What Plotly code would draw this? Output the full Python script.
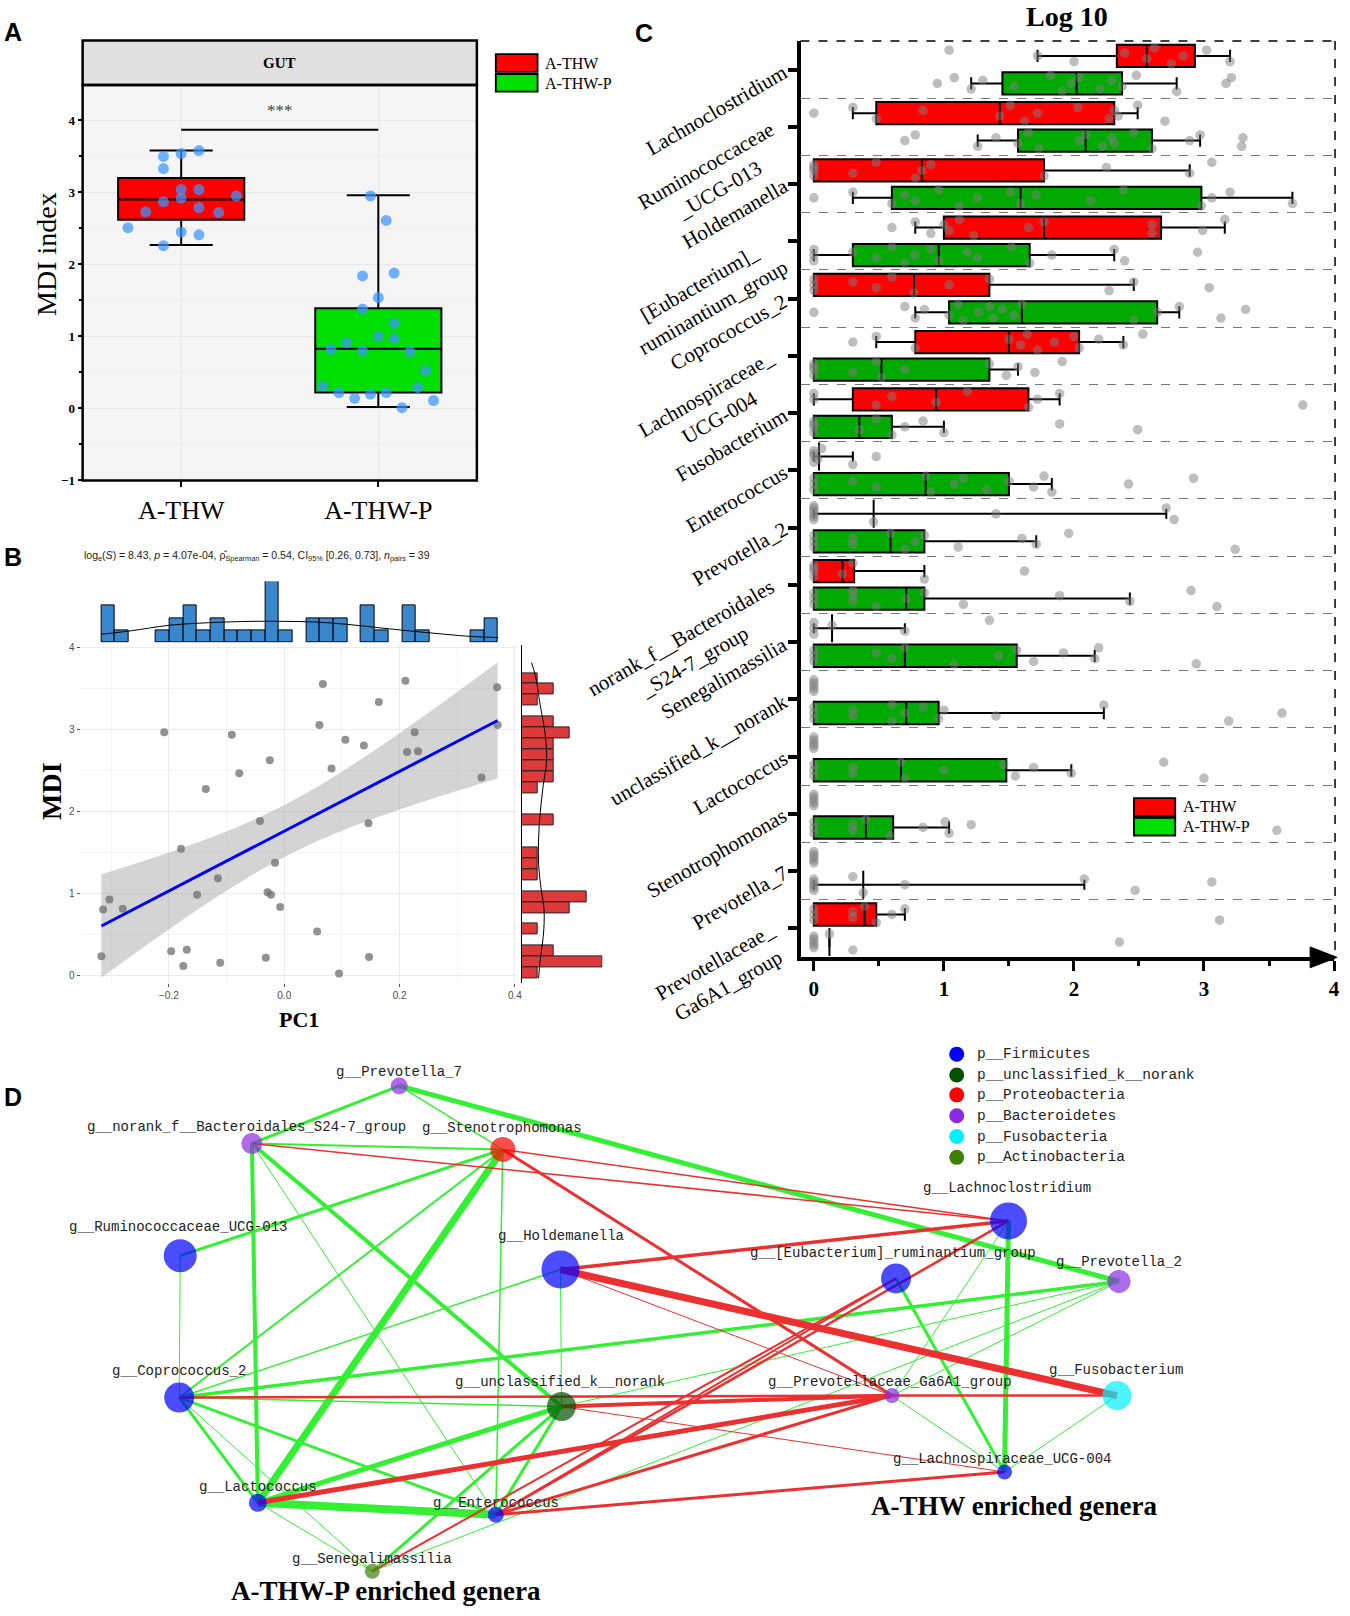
import numpy as np
import plotly.graph_objects as go

W, H = 1350, 1616
SERIF = "Liberation Serif"
SANS = "Liberation Sans"
MONO = "Liberation Mono"

# ---------------- panel A: MDI index by group ----------------
a_groups = ["A-THW", "A-THW-P"]
a_q1 = [2.62, 0.22]
a_med = [2.90, 0.83]
a_q3 = [3.20, 1.39]
a_lo = [2.27, 0.02]
a_hi = [3.58, 2.96]
a_thw_mdi = [3.50, 3.54, 3.58, 3.33, 3.04, 3.04, 2.95, 2.92, 2.87, 2.79, 2.73, 2.72,
             2.51, 2.45, 2.41, 2.26]
a_thw_jit = [-0.09, 0.0, 0.09, -0.09, 0.0, 0.09, 0.28, 0.0, -0.09, 0.09, -0.18, 0.19,
             -0.27, 0.0, 0.09, -0.09]
a_thwp_mdi = [2.95, 2.61, 1.84, 1.88, 1.54, 1.38, 1.18, 1.00, 0.97, 0.91, 0.82, 0.80,
              0.79, 0.52, 0.31, 0.29, 0.22, 0.20, 0.22, 0.14, 0.11, 0.01]
a_thwp_jit = [-0.04, 0.04, -0.08, 0.08, 0.0, -0.08, 0.08, 0.0, 0.08, -0.16, -0.24, -0.08,
              0.16, 0.24, -0.28, 0.20, -0.20, -0.04, 0.04, -0.12, 0.28, 0.12]
a_sig_y = 3.87

# ---------------- panel B: PC1 vs MDI ----------------
pc1 = [0.067, 0.210, 0.369, 0.164, -0.208, -0.091, 0.061, 0.370, 0.226, 0.106, 0.138,
       0.213, 0.232, -0.025, 0.082, -0.078, 0.342, -0.136, -0.042, 0.146, -0.179, -0.016,
       -0.115, -0.303, -0.314, -0.280, -0.151, -0.029, -0.023, -0.007, 0.057, -0.317,
       -0.196, -0.169, -0.175, -0.111, -0.032, 0.147, 0.095]
mdi = [3.55, 3.59, 3.51, 3.33, 2.96, 2.93, 3.05, 3.05, 2.96, 2.87, 2.80, 2.72, 2.73,
       2.62, 2.52, 2.46, 2.41, 2.27, 1.88, 1.85, 1.54, 1.37, 1.18, 0.92, 0.80, 0.81, 0.98,
       1.01, 0.98, 0.83, 0.53, 0.23, 0.29, 0.31, 0.11, 0.15, 0.21, 0.22, 0.02]
pc1_bin_start = -0.317
pc1_bin_width = 0.0237
pc1_counts = [3, 1, 0, 0, 1, 2, 3, 1, 2, 1, 1, 1, 5, 1, 0, 2, 2, 2, 0, 3, 1, 0, 3, 1,
              0, 0, 0, 1, 2]
pc1_dens_x = [-0.317, -0.267, -0.199, -0.131, -0.056, -0.001, 0.053, 0.108, 0.162,
              0.217, 0.278, 0.326, 0.371]
pc1_dens_y = [0.68, 0.95, 1.41, 1.62, 1.73, 1.73, 1.68, 1.49, 1.22, 0.95, 0.68, 0.49, 0.41]
mdi_bin_top = 3.684
mdi_bin_height = 0.133
mdi_counts = [1, 2, 1, 0, 2, 3, 2, 2, 2, 2, 1, 0, 0, 2, 0, 0, 1, 1, 1, 0, 4, 3, 0, 1,
              0, 2, 5, 1]  # top to bottom
mdi_dens_y = [3.81, 3.65, 3.29, 2.93, 2.60, 2.32, 1.98, 1.67, 1.35, 1.03, 0.79, 0.47,
              0.19, -0.04]
mdi_dens_x = [0.61, 0.85, 1.15, 1.46, 1.54, 1.34, 1.15, 1.05, 1.05, 1.22, 1.39, 1.34,
              1.15, 1.05]
subtitle_b = ("log<sub>e</sub>(<i>S</i>) = 8.43, <i>p</i> = 4.07e-04, "
              "\u03c1\u0302<sub>Spearman</sub> = 0.54, CI<sub>95%</sub> [0.26, 0.73], "
              "<i>n</i><sub>pairs</sub> = 39")

# ---------------- panel C: genera abundance (log10) ----------------
c_labels = ["Lachnoclostridium", "Ruminococcaceae<br>_UCG-013", "Holdemanella",
            "[Eubacterium]_<br>ruminantium_group", "Coprococcus_2",
            "Lachnospiraceae_<br>UCG-004", "Fusobacterium", "Enterococcus", "Prevotella_2",
            "norank_f__Bacteroidales<br>_S24-7_group", "Senegalimassilia",
            "unclassified_k__norank", "Lactococcus", "Stenotrophomonas", "Prevotella_7",
            "Prevotellaceae_<br>Ga6A1_group"]
thw_q1 = [2.33, 0.48, 0.0, 1.00, 0.0, 0.78, 0.30, None, None, 0.0, None, None, None, None, None, 0.0]
thw_med = [2.56, 1.43, 0.83, 1.77, 0.77, 1.50, 0.94, None, None, 0.22, None, None, None, None, None, 0.39]
thw_q3 = [2.93, 2.31, 1.77, 2.67, 1.35, 2.04, 1.65, None, None, 0.31, None, None, None, None, None, 0.48]
thw_lo = [1.72, 0.30, 0.0, 0.78, 0.0, 0.48, 0.0, None, None, 0.0, None, None, None, None, None, 0.0]
thw_hi = [3.20, 2.49, 2.89, 3.16, 2.46, 2.38, 1.89, None, None, 0.85, None, None, None, None, None, 0.70]
thw_mark = [None, None, None, None, None, None, None, 0.04, 0.46, None, 0.14, None, None, None, None, None]
thw_mark_hi = [None, None, None, None, None, None, None, 0.30, 2.71, None, 0.70, None, None, None, None, None]
thwp_q1 = [1.45, 1.57, 0.60, 0.30, 1.04, 0.0, 0.0, 0.0, 0.0, 0.0, 0.0, 0.0, 0.0, 0.0, None, None]
thwp_med = [2.02, 2.09, 1.59, 0.96, 1.60, 0.52, 0.35, 0.86, 0.59, 0.71, 0.70, 0.71, 0.67, 0.40, None, None]
thwp_q3 = [2.37, 2.60, 2.98, 1.66, 2.64, 1.35, 0.60, 1.50, 0.85, 0.85, 1.56, 0.96, 1.48, 0.61, None, None]
thwp_lo = [1.21, 1.26, 0.30, 0.0, 0.78, 0.0, 0.0, 0.0, 0.0, 0.0, 0.0, 0.0, 0.0, 0.0, None, None]
thwp_hi = [2.79, 2.97, 3.68, 2.31, 2.81, 1.57, 1.00, 1.83, 1.71, 2.43, 2.16, 2.23, 1.98, 1.04, None, None]
thwp_mark = [None] * 14 + [0.38, 0.12]
thwp_mark_hi = [None] * 14 + [2.08, 0.12]
thw_pts = [
    [1.72, 1.04, 2.00, 2.39, 2.56, 2.62, 2.75, 2.84, 3.02, 3.20],
    [0, 0.30, 0.48, 0.84, 1.43, 1.51, 1.62, 1.72, 2.03, 2.27, 2.31, 2.34, 2.49, 2.70],
    [0, 0, 0, 0, 0.30, 0.48, 0.78, 0.83, 0.90, 1.77, 2.25, 2.89, 3.06],
    [0.60, 0.78, 0.90, 1.00, 1.04, 1.12, 1.23, 1.65, 1.77, 2.60, 2.60, 2.99, 3.16],
    [0, 0, 0, 0.30, 0.48, 0.60, 0.77, 1.04, 1.35, 2.27, 2.46, 3.04],
    [0.30, 0.48, 0.78, 1.50, 1.59, 1.64, 1.72, 1.85, 2.00, 2.04, 2.19, 2.38, 2.53],
    [0, 0, 0.48, 0.60, 0.94, 1.18, 1.65, 1.72, 1.89, 3.76],
    [0, 0, 0, 0, 0.03, 0.06, 0.30, 0.48],
    [0, 0, 0, 0, 0, 0, 0.46, 1.40, 2.71, 2.77],
    [0, 0, 0, 0, 0.22, 0.30, 0.85, 1.62],
    [0, 0, 0, 0.14, 0.70, 1.35],
    [0, 0, 0, 0, 0],
    [0, 0, 0, 0, 0],
    [0, 0, 0, 0, 0],
    [0, 0, 0, 0, 0],
    [0, 0, 0, 0.30, 0.30, 0.39, 0.48, 0.60, 0.70, 3.12],
]
thwp_pts = [
    [0.95, 1.08, 1.21, 1.30, 1.54, 1.82, 1.91, 1.98, 2.04, 2.20, 2.29, 2.37, 2.48, 2.79, 3.17, 3.21],
    [0.70, 0.78, 1.26, 1.40, 1.57, 1.65, 1.73, 2.04, 2.09, 2.22, 2.29, 2.31, 2.46, 2.60, 2.89, 2.97, 3.29, 3.30],
    [0, 0.30, 0.60, 0.70, 0.78, 0.96, 1.12, 1.26, 1.51, 1.59, 1.71, 2.13, 2.38, 2.98, 3.06, 3.20, 3.68],
    [0, 0, 0, 0.30, 0.48, 0.60, 0.70, 0.78, 0.90, 0.96, 1.18, 1.26, 1.52, 1.66, 1.83, 2.31, 2.39, 2.95],
    [0, 0.70, 0.78, 0.85, 1.04, 1.11, 1.15, 1.27, 1.35, 1.38, 1.45, 1.54, 1.60, 2.46, 2.64, 2.81, 3.13, 3.32],
    [0, 0, 0, 0, 0.30, 0.48, 0.52, 0.70, 1.35, 1.48, 1.57, 1.70, 1.91],
    [0, 0, 0, 0, 0.35, 0.48, 0.60, 0.70, 0.84, 1.00, 1.89, 2.49],
    [0, 0, 0, 0.30, 0.48, 0.86, 0.90, 1.08, 1.15, 1.33, 1.50, 1.69, 1.77, 1.83, 2.42, 2.92],
    [0, 0, 0, 0.30, 0.30, 0.59, 0.70, 0.78, 0.85, 1.11, 1.60, 1.71, 1.96, 3.24],
    [0, 0, 0, 0.30, 0.30, 0.30, 0.48, 0.71, 0.85, 1.15, 1.89, 2.43, 2.90, 3.10],
    [0, 0, 0, 0.48, 0.60, 0.70, 1.08, 1.42, 1.56, 1.69, 1.92, 2.16, 2.19, 2.94],
    [0, 0, 0, 0.30, 0.30, 0.60, 0.60, 0.70, 0.84, 0.96, 1.00, 1.40, 2.23, 3.19, 3.60],
    [0, 0, 0, 0.30, 0.30, 0.67, 0.70, 1.00, 1.46, 1.55, 1.69, 1.98, 2.69, 3.00],
    [0, 0, 0, 0.30, 0.30, 0.40, 0.58, 0.84, 1.01, 1.04, 1.21, 3.56],
    [0, 0, 0, 0, 0, 0.30, 0.38, 0.70, 2.08, 2.47, 3.06],
    [0, 0, 0, 0, 0, 0.12, 0.30, 2.35],
]

# ---------------- panel D: co-occurrence network ----------------
nodes = ["Prevotella_7", "norank_f__Bacteroidales_S24-7_group", "Stenotrophomonas",
         "Ruminococcaceae_UCG-013", "Holdemanella", "Coprococcus_2", "unclassified_k__norank",
         "Lactococcus", "Enterococcus", "Senegalimassilia", "Lachnoclostridium",
         "[Eubacterium]_ruminantium_group", "Prevotella_2", "Prevotellaceae_Ga6A1_group",
         "Fusobacterium", "Lachnospiraceae_UCG-004"]
node_x = [401, 253, 505, 181, 563, 180, 564, 259, 498, 374, 1013, 900, 1124, 896, 1122, 1009]
node_y = [1090, 1148, 1154, 1261, 1275, 1404, 1413, 1510, 1522, 1579, 1226, 1284, 1287, 1402, 1402, 1479]
node_deg = [17, 21, 25, 33, 38, 30, 29, 18, 16, 15, 37, 30, 23, 15, 29, 15]
node_phylum = ["Bacteroidetes", "Bacteroidetes", "Proteobacteria", "Firmicutes", "Firmicutes",
               "Firmicutes", "unclassified_k__norank", "Firmicutes", "Firmicutes",
               "Actinobacteria", "Firmicutes", "Firmicutes", "Bacteroidetes", "Bacteroidetes",
               "Fusobacteria", "Firmicutes"]
phyla = ["Firmicutes", "unclassified_k__norank", "Proteobacteria", "Bacteroidetes",
         "Fusobacteria", "Actinobacteria"]
# (source, target, sign, strength)
edges = [
    ("Prevotella_7", "norank_f__Bacteroidales_S24-7_group", 1, 3),
    ("Prevotella_7", "Stenotrophomonas", 1, 1.5),
    ("Prevotella_7", "Prevotella_2", 1, 5),
    ("norank_f__Bacteroidales_S24-7_group", "Stenotrophomonas", 1, 2),
    ("norank_f__Bacteroidales_S24-7_group", "Lactococcus", 1, 4),
    ("norank_f__Bacteroidales_S24-7_group", "Enterococcus", 1, 1),
    ("norank_f__Bacteroidales_S24-7_group", "unclassified_k__norank", 1, 4),
    ("Stenotrophomonas", "Ruminococcaceae_UCG-013", 1, 3),
    ("Stenotrophomonas", "Coprococcus_2", 1, 2),
    ("Stenotrophomonas", "Lactococcus", 1, 7),
    ("Stenotrophomonas", "Enterococcus", 1, 1.5),
    ("Ruminococcaceae_UCG-013", "Coprococcus_2", 1, 1),
    ("Holdemanella", "Coprococcus_2", 1, 1.5),
    ("Holdemanella", "unclassified_k__norank", 1, 1),
    ("Coprococcus_2", "Prevotella_2", 1, 3.5),
    ("Coprococcus_2", "unclassified_k__norank", 1, 1.5),
    ("Coprococcus_2", "Lactococcus", 1, 3),
    ("Coprococcus_2", "Enterococcus", 1, 3),
    ("Coprococcus_2", "Senegalimassilia", 1, 1),
    ("unclassified_k__norank", "Lactococcus", 1, 5),
    ("unclassified_k__norank", "Enterococcus", 1, 3),
    ("unclassified_k__norank", "Senegalimassilia", 1, 3),
    ("unclassified_k__norank", "Prevotella_2", 1, 1),
    ("Lactococcus", "Enterococcus", 1, 8),
    ("Lactococcus", "Senegalimassilia", 1, 1),
    ("Senegalimassilia", "Prevotella_2", 1, 1),
    ("Lachnoclostridium", "Lachnospiraceae_UCG-004", 1, 5),
    ("Lachnoclostridium", "Prevotellaceae_Ga6A1_group", 1, 1),
    ("[Eubacterium]_ruminantium_group", "Lachnospiraceae_UCG-004", 1, 3),
    ("Prevotella_2", "Prevotellaceae_Ga6A1_group", 1, 1),
    ("Prevotellaceae_Ga6A1_group", "Lachnospiraceae_UCG-004", 1, 1),
    ("Fusobacterium", "Lachnospiraceae_UCG-004", 1, 1),
    ("norank_f__Bacteroidales_S24-7_group", "Lachnoclostridium", -1, 1.5),
    ("Stenotrophomonas", "Lachnoclostridium", -1, 1.5),
    ("Stenotrophomonas", "Prevotellaceae_Ga6A1_group", -1, 3),
    ("Holdemanella", "Lachnoclostridium", -1, 3.5),
    ("Holdemanella", "Fusobacterium", -1, 7),
    ("Holdemanella", "Prevotellaceae_Ga6A1_group", -1, 1),
    ("Coprococcus_2", "Prevotellaceae_Ga6A1_group", -1, 2.5),
    ("Prevotellaceae_Ga6A1_group", "Fusobacterium", -1, 2.5),
    ("unclassified_k__norank", "Prevotellaceae_Ga6A1_group", -1, 4),
    ("unclassified_k__norank", "Lachnospiraceae_UCG-004", -1, 1),
    ("Lactococcus", "Prevotellaceae_Ga6A1_group", -1, 5),
    ("Enterococcus", "Prevotellaceae_Ga6A1_group", -1, 3),
    ("Enterococcus", "Lachnospiraceae_UCG-004", -1, 3),
    ("Enterococcus", "[Eubacterium]_ruminantium_group", -1, 2),
    ("Enterococcus", "Lachnoclostridium", -1, 2.5),
    ("Senegalimassilia", "[Eubacterium]_ruminantium_group", -1, 2),
]

# ---------------- helpers ----------------
def fx(p):
    return p / W


def fy(p):
    return 1 - p / H


def txt(x, y, text, size, family=SERIF, color="black", xa="center", ya="middle", angle=0):
    return dict(x=fx(x), y=fy(y), xref="paper", yref="paper", text=text, showarrow=False,
                font=dict(family=family, size=size, color=color), xanchor=xa, yanchor=ya,
                textangle=angle)


def prect(x0, y0, x1, y1, fill="rgba(0,0,0,0)", color="black", width=1.5, layer="above"):
    return dict(type="rect", xref="paper", yref="paper", x0=fx(x0), x1=fx(x1),
                y0=fy(y1), y1=fy(y0), fillcolor=fill, layer=layer,
                line=dict(color=color, width=width))


fig = go.Figure()
annotations = []
shapes = []

# ================= A =================
a_fill = ["#ff0000", "#00e000"]
for i in range(2):
    fig.add_trace(go.Box(x=[i + 1], q1=[a_q1[i]], median=[a_med[i]], q3=[a_q3[i]],
                         lowerfence=[a_lo[i]], upperfence=[a_hi[i]], fillcolor=a_fill[i],
                         line=dict(color="black", width=2), width=0.64, whiskerwidth=0.5,
                         boxpoints=False, xaxis="x", yaxis="y", hoverinfo="skip"))
fig.add_trace(go.Scatter(x=[1 + j for j in a_thw_jit] + [2 + j for j in a_thwp_jit],
                         y=a_thw_mdi + a_thwp_mdi, mode="markers",
                         marker=dict(size=11, color="rgba(60,150,255,0.72)"),
                         xaxis="x", yaxis="y", hoverinfo="skip"))
fig.add_trace(go.Scatter(x=[1, 2], y=[a_sig_y, a_sig_y], mode="lines",
                         line=dict(color="black", width=2), xaxis="x", yaxis="y"))
annotations.append(dict(x=1.5, y=a_sig_y + 0.27, xref="x", yref="y", text="***",
                        showarrow=False, font=dict(family=SERIF, size=17, color="#444")))

shapes.append(prect(83, 81.7, 479, 480, fill="#f5f5f5", width=0, layer="below"))
shapes.append(prect(83, 36.7, 479, 81.7, fill="#e0e0e0", width=2.5))
shapes.append(prect(83, 81.7, 479, 480, width=2.5))
annotations.append(txt(281, 59, "<b>GUT</b>", 15))
annotations.append(txt(46, 252, "MDI index", 28, angle=-90))
annotations.append(txt(2, 28, "<b>A</b>", 25, family=SANS, xa="left"))
shapes.append(prect(498, 50.5, 540, 68.3, fill="#ff0000", width=1.8))
shapes.append(prect(498, 70.5, 540, 88.3, fill="#00e000", width=1.8))
annotations.append(txt(545, 60, "A-THW", 16, xa="left"))
annotations.append(txt(545, 80, "A-THW-P", 16, xa="left"))

# ================= B =================
xs = np.array(pc1)
ys = np.array(mdi)
slope, intercept = np.polyfit(xs, ys, 1)
n = len(xs)
resid = ys - (slope * xs + intercept)
s_err = np.sqrt(np.sum(resid ** 2) / (n - 2))
sxx = np.sum((xs - xs.mean()) ** 2)
xg = np.linspace(xs.min(), xs.max(), 80)
yg = slope * xg + intercept
half = 2.026 * s_err * np.sqrt(1 / n + (xg - xs.mean()) ** 2 / sxx)
fig.add_trace(go.Scatter(x=np.concatenate([xg, xg[::-1]]),
                         y=np.concatenate([yg + half, (yg - half)[::-1]]),
                         fill="toself", fillcolor="rgba(160,160,160,0.45)", mode="none",
                         xaxis="x2", yaxis="y2", hoverinfo="skip"))
fig.add_trace(go.Scatter(x=pc1, y=mdi, mode="markers",
                         marker=dict(size=8, color="rgba(110,110,110,0.75)"),
                         xaxis="x2", yaxis="y2", hoverinfo="skip"))
fig.add_trace(go.Scatter(x=xg, y=yg, mode="lines", line=dict(color="#0000ff", width=3),
                         xaxis="x2", yaxis="y2", hoverinfo="skip"))

pc1_centers = [pc1_bin_start + (k + 0.5) * pc1_bin_width for k in range(len(pc1_counts))]
keep = [k for k, c in enumerate(pc1_counts) if c > 0]
fig.add_trace(go.Bar(x=[pc1_centers[k] for k in keep], y=[pc1_counts[k] for k in keep],
                     width=pc1_bin_width, marker=dict(color="#3a87cd",
                     line=dict(color="black", width=1)), xaxis="x3", yaxis="y3"))
fig.add_trace(go.Scatter(x=pc1_dens_x, y=pc1_dens_y, mode="lines", line_shape="spline",
                         line=dict(color="black", width=1), xaxis="x3", yaxis="y3"))

mdi_centers = [mdi_bin_top - (k + 0.5) * mdi_bin_height for k in range(len(mdi_counts))]
keep = [k for k, c in enumerate(mdi_counts) if c > 0]
fig.add_trace(go.Bar(y=[mdi_centers[k] for k in keep], x=[mdi_counts[k] for k in keep],
                     orientation="h", width=mdi_bin_height,
                     marker=dict(color="#dd3b3b", line=dict(color="#222", width=1)),
                     xaxis="x4", yaxis="y4"))
fig.add_trace(go.Scatter(x=mdi_dens_x, y=mdi_dens_y, mode="lines", line_shape="spline",
                         line=dict(color="black", width=1), xaxis="x4", yaxis="y4"))

annotations.append(txt(2, 557, "<b>B</b>", 25, family=SANS, xa="left"))
annotations.append(txt(82, 556, subtitle_b, 10.5, family=SANS, color="#222", xa="left"))
annotations.append(txt(51, 793, "<b>MDI</b>", 28, angle=-90))
annotations.append(txt(300, 1023, "<b>PC1</b>", 22))

# ================= C =================
off = 0.24
c_fill = ["#ff0000", "#00aa00"]
for g, (q1, md, q3, lo, hi) in enumerate([(thw_q1, thw_med, thw_q3, thw_lo, thw_hi),
                                          (thwp_q1, thwp_med, thwp_q3, thwp_lo, thwp_hi)]):
    idx = [i for i in range(len(c_labels)) if q1[i] is not None]
    sgn = -1 if g == 0 else 1
    fig.add_trace(go.Box(y=[i + sgn * off for i in idx], q1=[q1[i] for i in idx],
                         median=[md[i] for i in idx], q3=[q3[i] for i in idx],
                         lowerfence=[lo[i] for i in idx], upperfence=[hi[i] for i in idx],
                         orientation="h", fillcolor=c_fill[g],
                         line=dict(color="black", width=2), width=0.39, whiskerwidth=0.55,
                         boxpoints=False, xaxis="x5", yaxis="y5", hoverinfo="skip"))
for g, (mk, mk_hi) in enumerate([(thw_mark, thw_mark_hi), (thwp_mark, thwp_mark_hi)]):
    idx = [i for i in range(len(c_labels)) if mk[i] is not None]
    sgn = -1 if g == 0 else 1
    fig.add_trace(go.Scatter(
        x=[mk[i] for i in idx], y=[i + sgn * off for i in idx], mode="markers",
        marker=dict(symbol="line-ns", size=20, line=dict(color="black", width=2)),
        error_x=dict(type="data", symmetric=False, array=[mk_hi[i] - mk[i] for i in idx],
                     arrayminus=[mk[i] if mk_hi[i] > mk[i] else 0 for i in idx],
                     color="black", thickness=2, width=5),
        xaxis="x5", yaxis="y5", hoverinfo="skip"))

jit = [0.0, -0.1, 0.1, -0.05, 0.05, -0.14, 0.14]
px_, py_ = [], []
for g, pts in enumerate([thw_pts, thwp_pts]):
    sgn = -1 if g == 0 else 1
    for i, row in enumerate(pts):
        for k, v in enumerate(row):
            px_.append(v)
            py_.append(i + sgn * off + jit[k % len(jit)])
fig.add_trace(go.Scatter(x=px_, y=py_, mode="markers",
                         marker=dict(size=9.5, color="rgba(125,125,125,0.5)"),
                         xaxis="x5", yaxis="y5", hoverinfo="skip"))

annotations.append(txt(636, 29, "<b>C</b>", 25, family=SANS, xa="left"))
annotations.append(txt(1072, 13, "<b>Log 10</b>", 28))
c_top, c_bot = 37.3, 960
row_h = (c_bot - c_top) / len(c_labels)
for i, lab in enumerate(c_labels):
    ty = c_top + (i + 0.5) * row_h
    annotations.append(txt(798, ty - 13, lab, 21, xa="right", ya="top", angle=-30))
shapes.append(dict(type="line", xref="paper", yref="paper", x0=fx(804), x1=fx(1341),
                   y0=fy(c_top), y1=fy(c_top), line=dict(color="black", width=1.5, dash="dash")))
shapes.append(dict(type="line", xref="paper", yref="paper", x0=fx(1341), x1=fx(1341),
                   y0=fy(c_top), y1=fy(c_bot), line=dict(color="black", width=1.5, dash="dash")))
shapes.append(dict(type="path", xref="paper", yref="paper", fillcolor="black",
                   line=dict(color="black", width=1),
                   path="M {} {} L {} {} L {} {} Z".format(fx(1316), fy(950), fx(1343), fy(960.5),
                                                          fx(1316), fy(971))))
shapes.append(prect(1139, 800, 1180.5, 818.3, fill="#ff0000", width=1.8))
shapes.append(prect(1139, 820, 1180.5, 837.7, fill="#00e000", width=1.8))
annotations.append(txt(1186, 809, "A-THW", 16, xa="left"))
annotations.append(txt(1186, 829, "A-THW-P", 16, xa="left"))

# ================= D =================
ph_color = {"Firmicutes": "#0000ff", "unclassified_k__norank": "#005200",
            "Proteobacteria": "#ff0000", "Bacteroidetes": "#8a2be2",
            "Fusobacteria": "#00f0ff", "Actinobacteria": "#3f7f0a"}
for a, b, sign, w in edges:
    i, j = nodes.index(a), nodes.index(b)
    fig.add_trace(go.Scatter(x=[node_x[i], node_x[j]], y=[node_y[i], node_y[j]],
                             mode="lines", hoverinfo="skip",
                             line=dict(color="#33f033" if sign > 0 else "#ec3030", width=w),
                             xaxis="x6", yaxis="y6"))
fig.add_trace(go.Scatter(x=node_x, y=node_y, mode="markers", hoverinfo="skip",
                         marker=dict(size=node_deg, color=[ph_color[p] for p in node_phylum],
                                     line=dict(width=0)),
                         xaxis="x6", yaxis="y6"))
# label anchors (left edge, vertical centre) for the node names
label_pos = [(335, 1076), (85, 1131), (422, 1132), (67, 1232), (498, 1241), (110, 1377),
             (455, 1388), (198, 1494), (433, 1510), (291, 1567), (925, 1193), (751, 1258),
             (1059, 1267), (769, 1388), (1052, 1376), (895, 1466)]
for name, (lx, ly) in zip(nodes, label_pos):
    annotations.append(dict(x=lx, y=ly, xref="x6", yref="y6", text="g__" + name,
                            showarrow=False, xanchor="left", yanchor="middle",
                            font=dict(family=MONO, size=14, color="#222")))
leg_y = [1058, 1079, 1099, 1120, 1141, 1162]
fig.add_trace(go.Scatter(x=[961] * len(phyla), y=leg_y, mode="markers", hoverinfo="skip",
                         marker=dict(size=15, color=[ph_color[p] for p in phyla]),
                         xaxis="x6", yaxis="y6"))
for p, ly in zip(phyla, leg_y):
    annotations.append(dict(x=979, y=ly, xref="x6", yref="y6", text="p__" + p,
                            showarrow=False, xanchor="left", yanchor="middle",
                            font=dict(family=MONO, size=14.5, color="#222")))
annotations.append(txt(2, 1101, "<b>D</b>", 25, family=SANS, xa="left"))
annotations.append(txt(1019, 1513, "<b>A-THW enriched genera</b>", 27))
annotations.append(txt(388, 1599, "<b>A-THW-P enriched genera</b>", 27))

# ================= layout =================
tick_gray = dict(family=SANS, size=10, color="#4d4d4d")
fig.update_layout(
    width=W, height=H, margin=dict(l=0, r=0, t=0, b=0), showlegend=False,
    paper_bgcolor="white", plot_bgcolor="rgba(0,0,0,0)", boxmode="overlay", bargap=0,
    annotations=annotations, shapes=shapes,
    xaxis=dict(domain=[fx(83), fx(479)], range=[0.5, 2.5], anchor="y",
               tickvals=[1, 2], ticktext=a_groups,
               tickfont=dict(family=SERIF, size=26, color="black"),
               ticks="outside", ticklen=6, tickwidth=2, tickcolor="black",
               showgrid=True, gridcolor="#e8e8e8", zeroline=False),
    yaxis=dict(domain=[fy(480), fy(81.7)], range=[-1, 4.49], anchor="x",
               tickvals=[-1, 0, 1, 2, 3, 4],
               tickfont=dict(family=SERIF, size=13, color="black", weight="bold"),
               ticks="outside", ticklen=4, tickwidth=2, tickcolor="black",
               showgrid=True, gridcolor="#e8e8e8", zeroline=False,
               minor=dict(tick0=0, dtick=0.5, ticks="outside", ticklen=3, tickwidth=2,
                          tickcolor="black", showgrid=True, gridcolor="#eeeeee")),
    xaxis2=dict(domain=[fx(81), fx(519)], range=[-0.353, 0.403], anchor="y2",
                tickmode="linear", tick0=0, dtick=0.2, tickformat=".1f", tickfont=tick_gray,
                ticks="outside", ticklen=3, tickcolor="#555", gridcolor="#ebebeb",
                zeroline=False, minor=dict(tick0=0, dtick=0.1, showgrid=True, gridcolor="#f4f4f4")),
    yaxis2=dict(domain=[fy(986.6), fy(646.2)], range=[-0.1, 4.02], anchor="x2",
                tickmode="linear", tick0=0, dtick=1, tickfont=tick_gray,
                ticks="outside", ticklen=3, tickcolor="#555", gridcolor="#ebebeb",
                zeroline=False, minor=dict(tick0=0, dtick=0.5, showgrid=True, gridcolor="#f4f4f4")),
    xaxis3=dict(domain=[fx(81), fx(519)], matches="x2", anchor="y3", visible=False),
    yaxis3=dict(domain=[fy(643.3), fy(581.7)], range=[0, 5], anchor="x3", visible=False),
    xaxis4=dict(domain=[fx(524), fx(605)], range=[0, 5], anchor="y4", visible=False),
    yaxis4=dict(domain=[fy(986.6), fy(646.2)], matches="y2", anchor="x4",
                showticklabels=False, ticks="", showgrid=False, zeroline=False,
                showline=True, linecolor="black", linewidth=1),
    xaxis5=dict(domain=[fx(804.4), fx(1340)], range=[-0.1, 4.0], anchor="y5",
                tickvals=[0, 1, 2, 3, 4],
                tickfont=dict(family=SERIF, size=21, color="black", weight="bold"),
                ticks="outside", ticklen=10, tickwidth=3, tickcolor="black",
                minor=dict(tick0=0, dtick=0.5, ticks="outside", ticklen=5, tickwidth=3,
                           tickcolor="black"),
                showgrid=False, zeroline=False, showline=True, linecolor="black", linewidth=4),
    yaxis5=dict(domain=[fy(c_bot), fy(c_top)], range=[len(c_labels) - 0.5, -0.5], anchor="x5",
                tickvals=list(range(len(c_labels))), showticklabels=False,
                ticks="outside", ticklen=9, tickwidth=3.5, tickcolor="black",
                showgrid=False, zeroline=False, showline=True, linecolor="black", linewidth=4,
                minor=dict(tick0=0.5, dtick=1, showgrid=True, gridcolor="#777",
                           griddash="dash", gridwidth=1, ticks="")),
    xaxis6=dict(domain=[0, 1], range=[0, W], anchor="y6", visible=False),
    yaxis6=dict(domain=[0, fy(1030)], range=[H, 1030], anchor="x6", visible=False),
)

# the page's default body margin would push the figure off by 8px
fig.write_html("out.html", config={"displayModeBar": False},
               post_script="document.body.style.margin = '0';")
